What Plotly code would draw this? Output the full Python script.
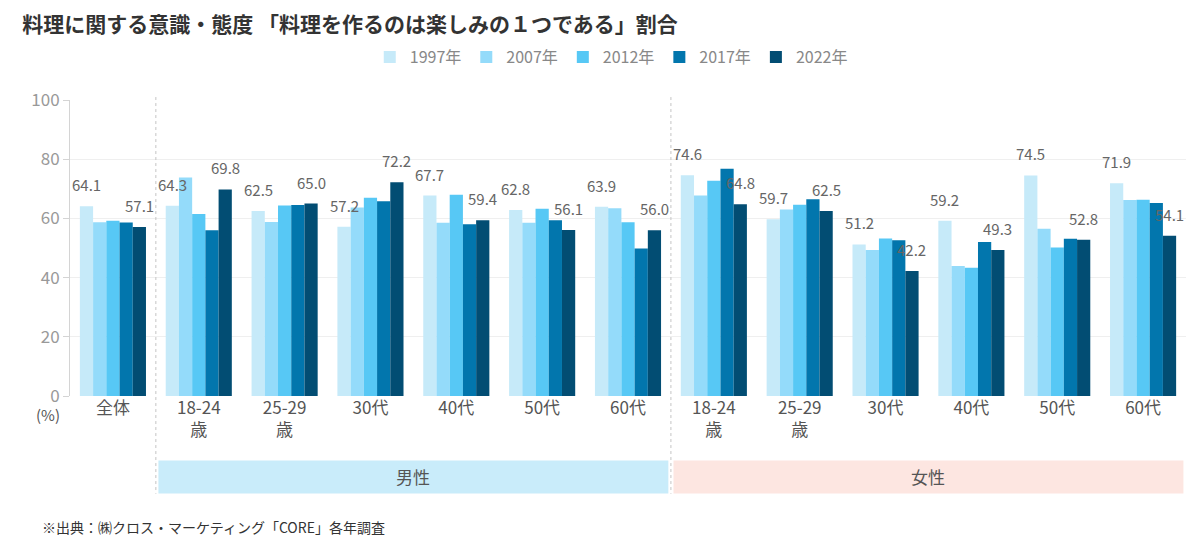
import plotly.graph_objects as go

# ── Data ─────────────────────────────────────────────────────────────────────
CATEGORIES = ["全体",
              "18-24<br>歳", "25-29<br>歳", "30代", "40代", "50代", "60代",
              "18-24<br>歳", "25-29<br>歳", "30代", "40代", "50代", "60代"]
YEARS = ["1997年", "2007年", "2012年", "2017年", "2022年"]

V1997 = [64.1, 64.3, 62.5, 57.2, 67.7, 62.8, 63.9, 74.6, 59.7, 51.2, 59.2, 74.5, 71.9]
V2007 = [58.7, 73.8, 58.8, 63.7, 58.5, 58.5, 63.4, 67.7, 63.0, 49.3, 43.9, 56.5, 66.2]
V2012 = [59.2, 61.5, 64.4, 67.0, 68.0, 63.3, 58.7, 72.7, 64.6, 53.2, 43.3, 50.2, 66.3]
V2017 = [58.6, 56.0, 64.5, 65.8, 58.0, 59.4, 49.8, 76.8, 66.5, 52.6, 52.0, 53.1, 65.2]
V2022 = [57.1, 69.8, 65.0, 72.2, 59.4, 56.1, 56.0, 64.8, 62.5, 42.2, 49.3, 52.8, 54.1]
SERIES = [V1997, V2007, V2012, V2017, V2022]

GROUPS = ["男性", "女性"]
GROUP_SPANS = [(1, 6), (7, 12)]   # index range of categories in each group

COLORS = ["#c6eaf9", "#94dbfa", "#57c8f5", "#0276ad", "#024d73"]
BAND_COLORS = ["#c9ecfa", "#fde6e1"]

FONT = "Noto Sans CJK JP"
BARGAP = 0.23
N = len(YEARS)
BAR_W = (1 - BARGAP) / N

x = list(range(len(CATEGORIES)))

fig = go.Figure()
for yr, vals, col in zip(YEARS, SERIES, COLORS):
    fig.add_trace(go.Bar(x=x, y=vals, name=yr, marker=dict(color=col, line_width=0)))

# value labels only on the first and last year
annotations = []
for si in (0, N - 1):
    off = (si - (N - 1) / 2) * BAR_W
    for xi, v in zip(x, SERIES[si]):
        annotations.append(dict(
            x=xi + off, y=v, xref="x", yref="y", text=f"{v:.1f}",
            showarrow=False, yanchor="bottom", yshift=9,
            font=dict(family=FONT, size=15, color="#666666"),
        ))

shapes = []
# group bands below the axis
for (a, b), name, bc in zip(GROUP_SPANS, GROUPS, BAND_COLORS):
    shapes.append(dict(type="rect", xref="x", yref="paper",
                       x0=a - 0.5 + 0.03, x1=b + 0.5 - 0.03, y0=-0.329, y1=-0.218,
                       fillcolor=bc, line_width=0, layer="below"))
    annotations.append(dict(x=(a + b) / 2, y=-0.272, xref="x", yref="paper",
                            text=name, showarrow=False, yanchor="middle",
                            font=dict(family=FONT, size=17, color="#555555")))
# dotted separators
for (a, _b) in GROUP_SPANS:
    shapes.append(dict(type="line", xref="x", yref="paper",
                       x0=a - 0.5, x1=a - 0.5, y0=1.01, y1=-0.33,
                       line=dict(color="#c4c4c4", width=1, dash="dot")))

annotations.append(dict(x=-0.02, y=-0.062, xref="paper", yref="paper", text="(%)",
                        showarrow=False, xanchor="center", yanchor="middle",
                        font=dict(family=FONT, size=15, color="#555555")))
annotations.append(dict(x=-0.027, y=-0.443, xref="paper", yref="paper",
                        xanchor="left", yanchor="middle", showarrow=False,
                        text="※出典：㈱クロス・マーケティング「CORE」各年調査",
                        font=dict(family=FONT, size=14, color="#333333")))

# page body has an 8px margin, so the figure is 8px smaller and margins shifted
fig.update_layout(
    width=1184, height=529,
    margin=dict(l=62, r=6, t=92, b=141),
    paper_bgcolor="white", plot_bgcolor="white",
    barmode="group", bargap=BARGAP, bargroupgap=0,
    title=dict(text="<b>料理に関する意識・態度 「料理を作るのは楽しみの１つである」割合</b>",
               x=0.012, xanchor="left", y=0.968, yanchor="middle",
               font=dict(family=FONT, size=21, color="#333333")),
    legend=dict(orientation="h", x=0.485, xanchor="center", y=1.145, yanchor="middle",
                font=dict(family=FONT, size=16, color="#888888"),
                itemwidth=30, traceorder="normal"),
    xaxis=dict(tickvals=x, ticktext=CATEGORIES, range=[-0.5, len(x) - 0.5],
               showgrid=False, zeroline=False, showline=False, ticks="",
               tickfont=dict(family=FONT, size=17, color="#555555")),
    yaxis=dict(range=[0, 100], dtick=20, showgrid=True, gridcolor="#efefef",
               gridwidth=1, zeroline=False, showline=True, linecolor="#d4d4d4",
               linewidth=1, ticks="outside", ticklen=6, tickcolor="#d4d4d4",
               tickfont=dict(family=FONT, size=17, color="#999999")),
    shapes=shapes, annotations=annotations,
    font=dict(family=FONT),
)

fig.write_html("out.html")
